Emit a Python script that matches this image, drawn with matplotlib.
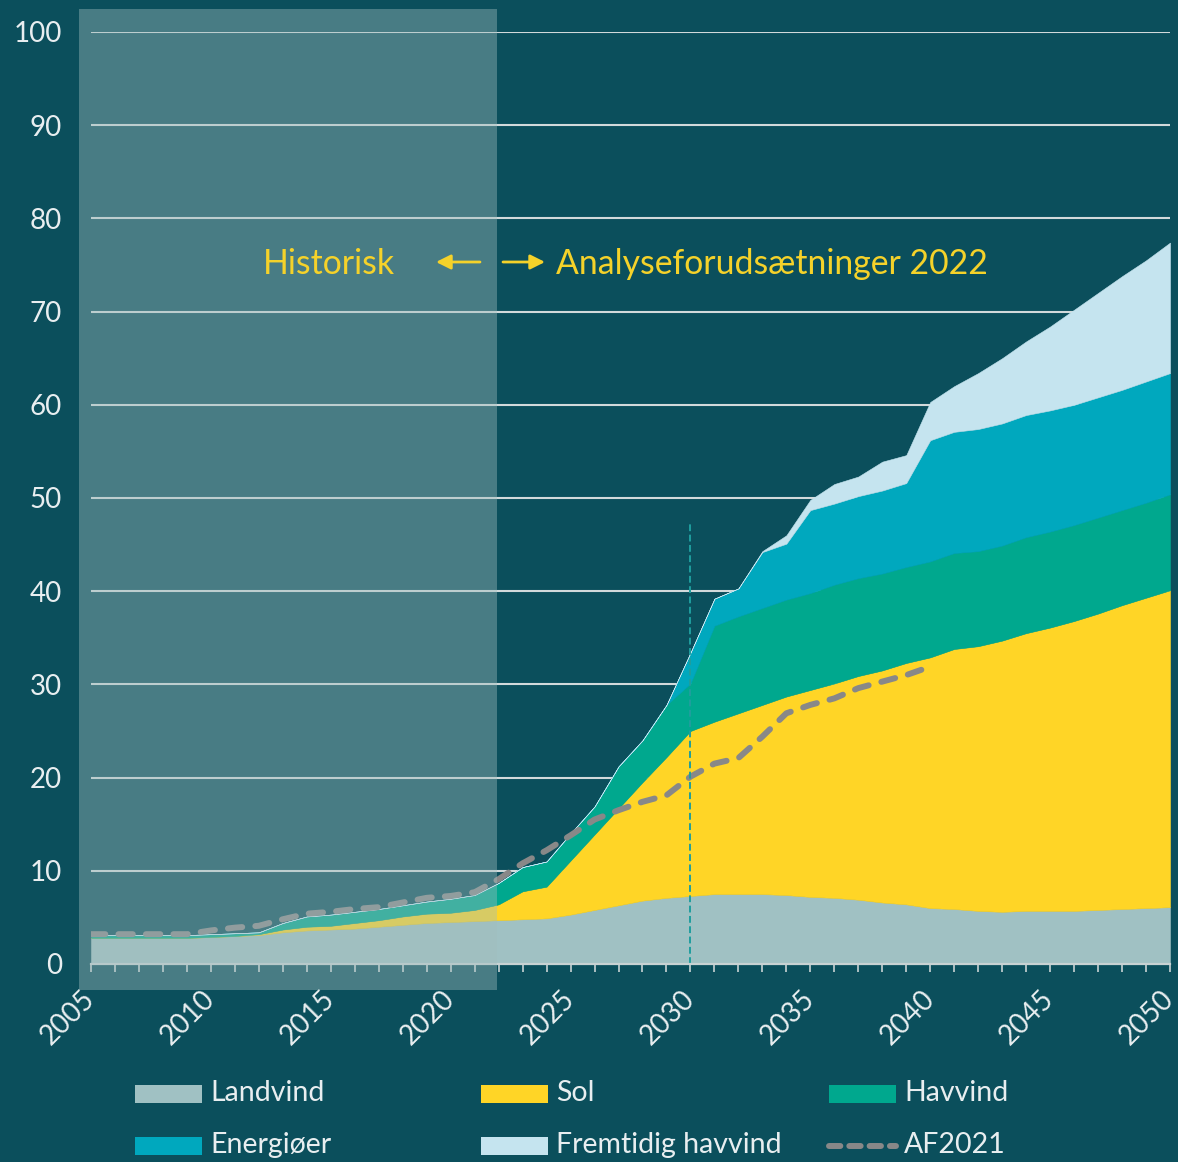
import matplotlib
matplotlib.use("Agg")
import matplotlib.pyplot as plt
from matplotlib.patches import Rectangle, FancyArrowPatch
from matplotlib.lines import Line2D
import numpy as np

plt.rcParams['font.family'] = ['Lato', 'DejaVu Sans']

years = list(range(2005, 2051))

landvind = [2.8, 2.8, 2.8, 2.8, 2.8, 2.9, 3.0, 3.1, 3.4, 3.6,
            3.7, 3.8, 4.0, 4.2, 4.4, 4.5, 4.6, 4.7, 4.8, 4.9,
            5.3, 5.8, 6.3, 6.8, 7.1, 7.3, 7.5, 7.5, 7.5, 7.4,
            7.2, 7.1, 6.9, 6.6, 6.4, 6.0, 5.9, 5.7, 5.6, 5.7,
            5.7, 5.7, 5.8, 5.9, 6.0, 6.1]
sol = [0.0, 0.0, 0.0, 0.0, 0.0, 0.0, 0.0, 0.1, 0.3, 0.4,
       0.4, 0.6, 0.7, 0.9, 1.0, 1.0, 1.2, 1.7, 3.0, 3.4,
       5.8, 8.1, 10.4, 12.7, 15.1, 17.7, 18.5, 19.4, 20.3, 21.3,
       22.2, 23.0, 24.0, 24.9, 25.9, 26.9, 27.9, 28.4, 29.1, 29.8,
       30.4, 31.1, 31.8, 32.6, 33.3, 34.0]
havvind = [0.3, 0.3, 0.3, 0.3, 0.3, 0.3, 0.3, 0.2, 0.7, 1.1,
           1.2, 1.2, 1.2, 1.2, 1.3, 1.5, 1.6, 2.3, 2.6, 2.7,
           2.9, 3.0, 4.5, 4.5, 5.6, 5.1, 10.3, 10.4, 10.4, 10.4,
           10.4, 10.6, 10.5, 10.4, 10.3, 10.3, 10.3, 10.2, 10.2, 10.3,
           10.3, 10.3, 10.3, 10.2, 10.2, 10.3]
energioer = [0.0] * 25 + [3.3, 2.9, 3.0, 6.0, 6.0,
             8.9, 8.7, 8.8, 8.9, 9.0, 13.0, 13.0, 13.1, 13.1, 13.1,
             13.0, 12.9, 12.9, 12.9, 13.0, 13.0]
fremtidig = [0.0] * 28 + [0.1, 0.9,
             1.1, 2.1, 2.1, 3.1, 3.0, 4.1, 4.9, 6.0, 7.0, 7.9,
             9.0, 10.2, 11.2, 12.2, 13.0, 14.0]

af_years = list(range(2005, 2041))
af2021 = [3.2, 3.2, 3.2, 3.2, 3.2, 3.6, 3.9, 4.1, 4.8, 5.4,
          5.6, 5.9, 6.1, 6.6, 7.1, 7.3, 7.7, 9.1, 10.8, 12.2,
          13.8, 15.5, 16.5, 17.4, 18.1, 20.1, 21.5, 22.1, 24.4, 26.9,
          27.8, 28.5, 29.6, 30.3, 31.0, 31.9]

series_names = ["Landvind", "Sol", "Havvind", "Energiøer", "Fremtidig havvind"]
series_colors = ["#a0c1c3", "#ffd526", "#00a88e", "#00a8be", "#c5e4ef"]
yticks = list(range(0, 101, 10))
xticks = list(range(2005, 2051, 5))

BG = "#0b4f5c"
GRID = "#d2dadb"
TXT = "#e8eef0"
YEL = "#f5d22a"
W, H = 1178, 1162

fig = plt.figure(figsize=(W / 100, H / 100), dpi=100, facecolor=BG)
ax = fig.add_axes([91 / W, 198 / H, (1170 - 91) / W, (1130 - 198) / H])
ax.set_facecolor(BG)
ax.set_xlim(2005, 2050)
ax.set_ylim(0, 100)

# stacked areas
base = np.zeros(len(years))
for vals, col in zip([landvind, sol, havvind, energioer, fremtidig], series_colors):
    top = base + np.array(vals)
    ax.fill_between(years, base, top, facecolor=col, edgecolor=col, lw=0.4, zorder=2)
    base = top

# AF2021 dashed line
ax.plot(af_years, af2021, color="#888888", lw=4.3, dashes=(2.4, 2.2),
        dash_capstyle='round', zorder=3)

# vertical dashed line at 2030
ax.plot([2030, 2030], [0, 47.5], color="#1f9e9e", lw=1.4, dashes=(3.5, 1.8), zorder=3)

# axes styling
ax.set_yticks(yticks)
ax.set_yticklabels([str(v) for v in yticks])
ax.grid(axis='y', color=GRID, lw=1.5)
ax.set_axisbelow(True)
for s in ['top', 'right', 'left']:
    ax.spines[s].set_visible(False)
ax.spines['bottom'].set_color("#c8d2d3")
ax.spines['bottom'].set_linewidth(1.6)
ax.spines['bottom'].set_zorder(4)
ax.tick_params(axis='y', length=0, pad=21, labelsize=20, labelcolor=TXT)
ax.set_xticks(xticks)
ax.set_xticks(years, minor=True)
ax.set_xticklabels([str(v) for v in xticks], rotation=45, ha='right', va='center',
                   rotation_mode='anchor')
ax.tick_params(axis='x', which='both', direction='out', length=6, width=1.2,
               color="#c8d2d3", labelsize=20, labelcolor=TXT, pad=16)

# historical shading
fig.add_artist(Rectangle((79 / W, (H - 990) / H), (497 - 79) / W, (990 - 9) / H,
                         transform=fig.transFigure, facecolor=(160 / 255, 189 / 255, 190 / 255),
                         alpha=0.41, lw=0, zorder=5))

# annotations
fig.text(263 / W, (H - 264) / H, "Historisk", color=YEL, fontsize=24.3,
         ha='left', va='center', zorder=7)
fig.text(556 / W, (H - 264) / H, "Analyseforudsætninger 2022", color=YEL, fontsize=24.3,
         ha='left', va='center', zorder=7)
for xa, xb in [(480, 436), (503, 545)]:
    fig.add_artist(FancyArrowPatch((xa / W, (H - 262) / H), (xb / W, (H - 262) / H),
                                   transform=fig.transFigure, arrowstyle='-|>',
                                   color=YEL, lw=2, mutation_scale=22,
                                   shrinkA=0, shrinkB=0, zorder=7))

# legend (manual)
leg_items = [("Landvind", series_colors[0], 135, 1094),
             ("Sol", series_colors[1], 481, 1094),
             ("Havvind", series_colors[2], 829, 1094),
             ("Energiøer", series_colors[3], 135, 1146),
             ("Fremtidig havvind", series_colors[4], 481, 1146)]
for name, col, x0, yc in leg_items:
    fig.add_artist(Rectangle((x0 / W, (H - yc - 9) / H), 67 / W, 18 / H,
                             transform=fig.transFigure, facecolor=col, lw=0))
    fig.text((x0 + 75) / W, (H - yc + 1) / H, name, color=TXT, fontsize=20.5,
             ha='left', va='center')
fig.add_artist(Line2D([829 / W, 896 / W], [(H - 1146) / H] * 2, transform=fig.transFigure,
                      color="#888888", lw=4.3, dashes=(1.9, 1.5), dash_capstyle='round'))
fig.text(904 / W, (H - 1145) / H, "AF2021", color=TXT, fontsize=20.5,
         ha='left', va='center')

fig.savefig("out.png", dpi=100, facecolor=BG)
